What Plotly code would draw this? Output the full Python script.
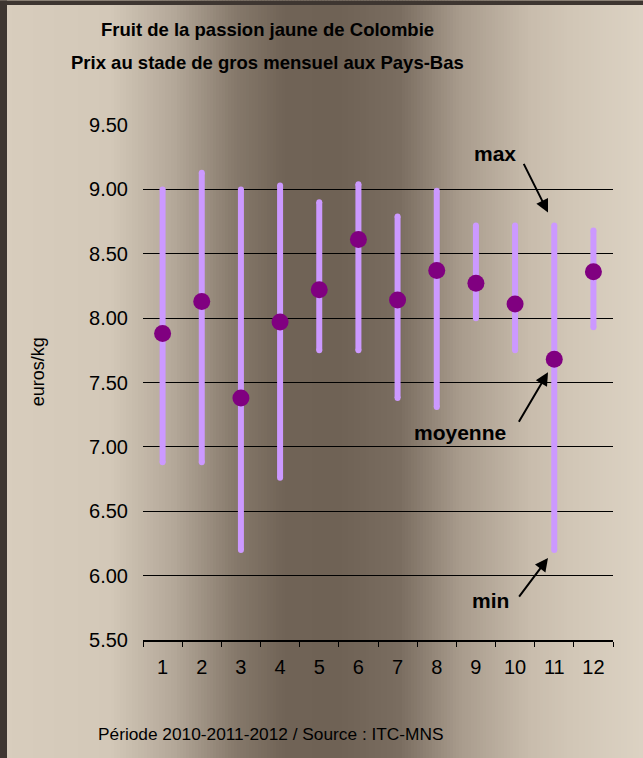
import plotly.graph_objects as go

# ---- data ----
months = ["1", "2", "3", "4", "5", "6", "7", "8", "9", "10", "11", "12"]
price_max = [9.00, 9.13, 9.00, 9.03, 8.90, 9.04, 8.79, 8.99, 8.72, 8.72, 8.72, 8.68]
price_min = [6.88, 6.88, 6.20, 6.76, 7.75, 7.75, 7.38, 7.31, 8.00, 7.75, 6.20, 7.93]
price_mean = [7.88, 8.13, 7.38, 7.97, 8.22, 8.61, 8.14, 8.37, 8.27, 8.11, 7.68, 8.36]
y_ticks = [5.5, 6.0, 6.5, 7.0, 7.5, 8.0, 8.5, 9.0, 9.5]

W, H = 643, 758
L, R, T, B = 143, 30, 124.5, 118
PW, PH = W - L - R, H - T - B

def px(xp):
    return (xp - L) / PW

def py(yp):
    return (H - B - yp) / PH

# range bars (min-max) as line segments with round-cap markers
lx, ly = [], []
for m, lo, hi in zip(months, price_min, price_max):
    lx += [m, m, None]
    ly += [lo, hi, None]

fig = go.Figure()
fig.add_trace(go.Scatter(
    x=lx, y=ly, mode="lines+markers",
    line=dict(color="#CC99FF", width=6),
    marker=dict(color="#CC99FF", size=6, line=dict(width=0)),
    hoverinfo="skip", showlegend=False, connectgaps=False,
))
fig.add_trace(go.Scatter(
    x=months, y=price_mean, mode="markers",
    marker=dict(color="#800080", size=17, line=dict(width=0)),
    showlegend=False,
))

# ---- background gradient (strips) ----
stops = [(0, (0xd8, 0xcd, 0xbd)), (110, (0xd3, 0xc8, 0xb8)), (175, (0xb3, 0xa7, 0x98)),
         (235, (0x86, 0x79, 0x6b)), (285, (0x70, 0x63, 0x56)), (340, (0x6f, 0x62, 0x55)),
         (400, (0x7a, 0x6d, 0x60)), (460, (0xa8, 0x9b, 0x8c)), (530, (0xc8, 0xbc, 0xac)),
         (570, (0xd1, 0xc6, 0xb6)), (643, (0xdc, 0xd2, 0xc3))]

def col_at(x):
    for (x0, c0), (x1, c1) in zip(stops[:-1], stops[1:]):
        if x0 <= x <= x1:
            t = (x - x0) / (x1 - x0)
            return "rgb(%d,%d,%d)" % tuple(round(a + (b - a) * t) for a, b in zip(c0, c1))
    return "rgb(%d,%d,%d)" % stops[-1][1]

shapes = []
step = 3
xs = 0
while xs < W:
    xe = min(W, xs + step)
    shapes.append(dict(type="rect", xref="paper", yref="paper", layer="below",
                       x0=px(xs), x1=px(xe + 0.5), y0=py(H), y1=py(0),
                       fillcolor=col_at(xs + step / 2), line=dict(width=0)))
    xs = xe
# dark frame left & top
shapes.append(dict(type="rect", xref="paper", yref="paper", layer="below",
                   x0=px(0), x1=px(7), y0=py(H), y1=py(0),
                   fillcolor="#3e3631", line=dict(width=0)))
shapes.append(dict(type="rect", xref="paper", yref="paper", layer="below",
                   x0=px(0), x1=px(W), y0=py(4.5), y1=py(0),
                   fillcolor="#3e3631", line=dict(width=0)))

bold_font = dict(family="Liberation Sans, Arial", size=18.5, color="black", weight="bold")
label_font = dict(family="Liberation Sans, Arial", size=21, color="black")
annotations = [
    dict(text="<b>Fruit de la passion jaune de Colombie</b>", x=px(267), y=py(29),
         xref="paper", yref="paper", showarrow=False, font=bold_font, xanchor="center", yanchor="middle"),
    dict(text="<b>Prix au stade de gros mensuel aux Pays-Bas</b>", x=px(267), y=py(62),
         xref="paper", yref="paper", showarrow=False, font=bold_font, xanchor="center", yanchor="middle"),
    dict(text="Période 2010-2011-2012 / Source : ITC-MNS", x=px(270), y=py(734),
         xref="paper", yref="paper", showarrow=False,
         font=dict(family="Liberation Sans, Arial", size=17.3, color="black"),
         xanchor="center", yanchor="middle"),
    dict(text="euros/kg", x=px(38), y=py(372), xref="paper", yref="paper", showarrow=False,
         textangle=-90, font=dict(family="Liberation Sans, Arial", size=18, color="black"),
         xanchor="center", yanchor="middle"),
    # labels
    dict(text="<b>max</b>", x=px(495), y=py(153), xref="paper", yref="paper", showarrow=False,
         font=label_font, xanchor="center", yanchor="middle"),
    dict(text="<b>moyenne</b>", x=px(460), y=py(432), xref="paper", yref="paper", showarrow=False,
         font=label_font, xanchor="center", yanchor="middle"),
    dict(text="<b>min</b>", x=px(490), y=py(600), xref="paper", yref="paper", showarrow=False,
         font=label_font, xanchor="center", yanchor="middle"),
]
# arrows: (tail px, head px)
for (tx, ty), (hx, hy) in [((523, 162), (548, 212)), ((518, 423), (548, 372)), ((518, 598), (548, 558))]:
    annotations.append(dict(text="", x=px(hx), y=py(hy), xref="paper", yref="paper",
                            ax=tx - hx, ay=ty - hy, axref="pixel", ayref="pixel",
                            showarrow=True, arrowhead=2, arrowsize=1.3, arrowwidth=2,
                            arrowcolor="black"))

tick_font = dict(family="Liberation Sans, Arial", size=20, color="black")
fig.update_layout(
    width=W, height=H,
    margin=dict(l=L, r=R, t=T, b=B, pad=0),
    paper_bgcolor="#d8cdbd", plot_bgcolor="rgba(0,0,0,0)",
    shapes=shapes, annotations=annotations,
    xaxis=dict(type="category", categoryorder="array", categoryarray=months,
               showgrid=False, showline=True, linecolor="black", linewidth=1.5,
               ticks="outside", ticklen=5, tickcolor="black", tickwidth=1,
               tickson="boundaries", tickfont=tick_font, ticklabelstandoff=8,
               range=[-0.5, 11.5], zeroline=False),
    yaxis=dict(range=[5.5, 9.5], tickvals=y_ticks, ticktext=["%.2f" % v for v in y_ticks],
               showgrid=True, gridcolor="black", gridwidth=1, showline=False, zeroline=False,
               ticks="", tickfont=tick_font, ticklabelstandoff=14),
    hovermode=False,
)

fig.write_html("out.html")
